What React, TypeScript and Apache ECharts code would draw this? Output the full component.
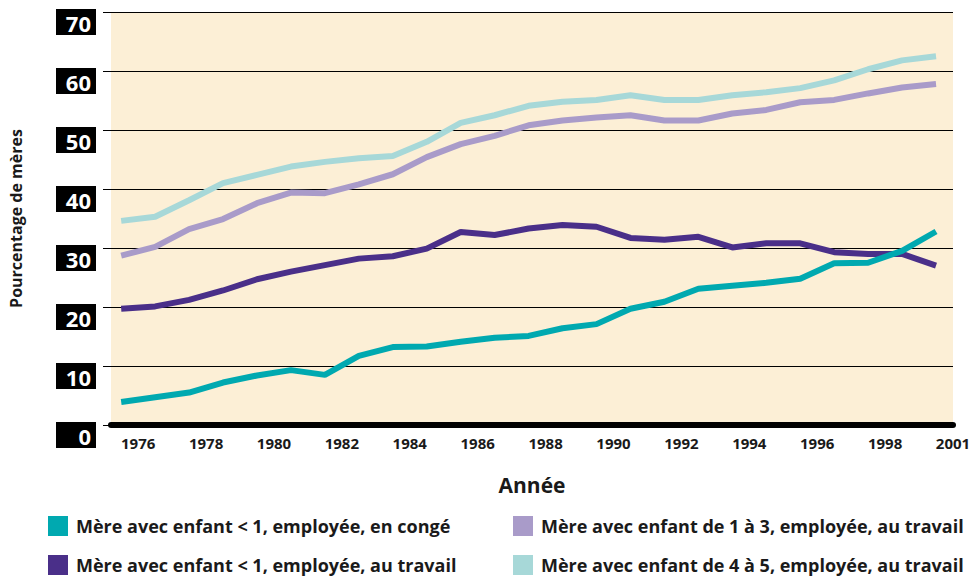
import React, { useEffect, useRef } from "react";
import * as echarts from "echarts";

const years = [1976, 1977, 1978, 1979, 1980, 1981, 1982, 1983, 1984, 1985, 1986, 1987, 1988, 1989, 1990, 1991, 1992, 1993, 1994, 1995, 1996, 1997, 1998, 1999, 2000];

const congeMoins1 = [3.9, 4.7, 5.5, 7.2, 8.4, 9.3, 8.5, 11.7, 13.2, 13.3, 14.1, 14.8, 15.1, 16.4, 17.1, 19.7, 20.9, 23.1, 23.6, 24.1, 24.8, 27.4, 27.5, 29.5, 32.8];
const travailMoins1 = [19.7, 20.1, 21.2, 22.8, 24.7, 26.0, 27.1, 28.2, 28.6, 29.9, 32.7, 32.2, 33.3, 33.9, 33.6, 31.7, 31.4, 31.9, 30.1, 30.8, 30.8, 29.3, 29.0, 29.0, 27.0];
const travail1a3 = [28.7, 30.2, 33.2, 34.9, 37.6, 39.4, 39.3, 40.8, 42.5, 45.4, 47.6, 49.0, 50.8, 51.6, 52.1, 52.5, 51.6, 51.6, 52.8, 53.4, 54.7, 55.1, 56.2, 57.2, 57.8];
const travail4a5 = [34.6, 35.3, 38.1, 41.0, 42.4, 43.8, 44.6, 45.2, 45.6, 48.0, 51.2, 52.5, 54.1, 54.8, 55.1, 55.9, 55.1, 55.1, 55.9, 56.4, 57.1, 58.4, 60.3, 61.8, 62.5];

const tickYears = [1976, 1978, 1980, 1982, 1984, 1986, 1988, 1990, 1992, 1994, 1996, 1998, 2000];
const tickLabels = ["1976", "1978", "1980", "1982", "1984", "1986", "1988", "1990", "1992", "1994", "1996", "1998", "2001"];

const names = {
  conge: "Mère avec enfant < 1, employée, en congé",
  travail: "Mère avec enfant < 1, employée, au travail",
  t13: "Mère avec enfant de 1 à 3, employée, au travail",
  t45: "Mère avec enfant de 4 à 5, employée, au travail",
};

const FONT = "'Open Sans', 'Noto Sans', sans-serif";

export default function App() {
  const ref = useRef<HTMLDivElement>(null);
  useEffect(() => {
    if (!ref.current) return;
    const chart = echarts.init(ref.current, null, { renderer: "svg" });
    const pairs = (arr: number[]) => years.map((y, i) => [y, arr[i]]);
    const labelPos = tickYears.map((y) => y + 0.5);
    const legendText = { color: "#1a1a1a", fontSize: 18, fontWeight: "bold" as const, fontFamily: FONT, padding: [0, 0, 0, 3] };
    const legendBase = {
      orient: "vertical" as const,
      top: 516,
      padding: 0,
      itemWidth: 20,
      itemHeight: 20,
      itemGap: 19,
      icon: "rect",
      textStyle: legendText,
    };
    chart.setOption({
      animation: false,
      backgroundColor: "#ffffff",
      textStyle: { fontFamily: FONT },
      grid: {
        left: 105,
        right: 22,
        top: 12,
        bottom: 154,
        show: true,
        backgroundColor: "#fcefd6",
        borderWidth: 0,
      },
      xAxis: {
        type: "value",
        min: 1975.7,
        max: 2000.5,
        name: "Année",
        nameLocation: "middle",
        nameGap: 49,
        nameTextStyle: { fontSize: 21, fontWeight: "bold", color: "#1a1a1a", fontFamily: FONT },
        splitLine: { show: false },
        axisTick: { show: false },
        axisLine: { show: true, onZero: false, lineStyle: { color: "#000", width: 6 } },
        axisLabel: {
          customValues: labelPos,
          margin: 10,
          fontSize: 15,
          fontWeight: "bold",
          color: "#1a1a1a",
          fontFamily: FONT,
          formatter: (v: number) => {
            let best = 0;
            labelPos.forEach((p, i) => {
              if (Math.abs(p - v) < Math.abs(labelPos[best] - v)) best = i;
            });
            return tickLabels[best];
          },
        },
      },
      yAxis: {
        type: "value",
        min: 0,
        max: 70,
        interval: 10,
        name: "Pourcentage de mères",
        nameLocation: "middle",
        nameGap: 87,
        nameTextStyle: { fontSize: 16, fontWeight: "bold", color: "#1a1a1a", fontFamily: FONT },
        axisLine: { show: false },
        axisTick: { show: true, inside: false, length: 8, lineStyle: { color: "#000", width: 1 } },
        splitLine: { show: true, lineStyle: { color: "#000", width: 1 } },
        axisLabel: {
          margin: 15,
          padding: [20, 0, 0, 0],
          formatter: (v: number) => `{b|${v}}`,
          rich: {
            b: {
              backgroundColor: "#000",
              color: "#fff",
              fontSize: 22,
              fontWeight: "bold",
              fontFamily: FONT,
              width: 30,
              align: "right",
              lineHeight: 24,
              padding: [3, 5, 1, 5],
            },
          },
        },
      },
      legend: [
        { ...legendBase, left: 48, data: [names.conge, names.travail] },
        { ...legendBase, left: 513, data: [names.t13, names.t45] },
      ],
      series: [
        { name: names.t45, type: "line", data: pairs(travail4a5), showSymbol: false, color: "#a7d8d8", lineStyle: { width: 6, color: "#a7d8d8" } },
        { name: names.t13, type: "line", data: pairs(travail1a3), showSymbol: false, color: "#a99bc9", lineStyle: { width: 6, color: "#a99bc9" } },
        { name: names.travail, type: "line", data: pairs(travailMoins1), showSymbol: false, color: "#4a2f89", lineStyle: { width: 6, color: "#4a2f89" } },
        { name: names.conge, type: "line", data: pairs(congeMoins1), showSymbol: false, color: "#00a9b0", lineStyle: { width: 6, color: "#00a9b0" } },
      ],
    });
    return () => chart.dispose();
  }, []);
  return <div ref={ref} style={{ width: 975, height: 579, position: "absolute", left: 0, top: 0 }} />;
}
